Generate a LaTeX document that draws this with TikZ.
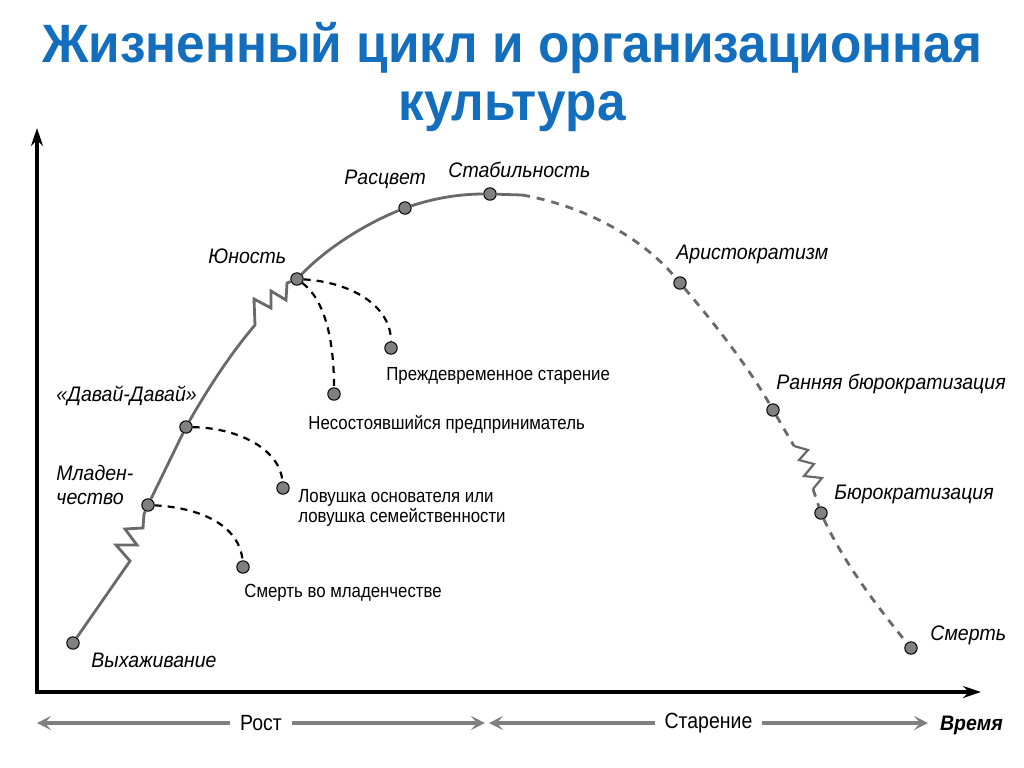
\documentclass[tikz,border=0pt]{standalone}
\usepackage{fontspec}
\setmainfont{Liberation Sans}
\newfontfamily\narrowfont[FakeStretch=0.885]{Liberation Sans}
\newfontfamily\stagefont[FakeStretch=0.93]{Liberation Sans}
\newfontfamily\titlefont[FakeStretch=0.95]{Liberation Sans}
\usetikzlibrary{arrows.meta}
\definecolor{titleblue}{RGB}{20,110,190}
\definecolor{curvegray}{RGB}{105,105,105}
\definecolor{spangray}{RGB}{128,128,128}

\begin{document}
\begin{tikzpicture}[x=0.5pt,y=-0.5pt,
    stage/.style={font=\stagefont\itshape\fontsize{10.5}{12}\selectfont,inner sep=1pt},
    trap/.style={font=\narrowfont\fontsize{9.5}{10}\selectfont,align=left,inner sep=1pt},
    pt/.style={circle,draw=black,fill=gray,minimum size=6.2pt,inner sep=0pt,line width=0.5pt},
    curve/.style={curvegray,line width=1.4pt},
    fall/.style={curvegray,line width=1.4pt,dash pattern=on 4pt off 3.5pt},
    trapline/.style={black,line width=1.1pt,dash pattern=on 3.5pt off 3pt},
    span/.style={spangray,line width=2.2pt,{Stealth[length=7pt,width=7pt,inset=3pt]}-{Stealth[length=7pt,width=7pt,inset=3pt]}},
    spanlabel/.style={fill=white,text=black,font=\narrowfont\fontsize{11}{12}\selectfont,inner xsep=5pt}]
  \useasboundingbox (0,0) rectangle (1024,767);
  % title
  \node[font=\titlefont\bfseries\fontsize{27}{29}\selectfont,text=titleblue,align=center] (title) at (512,77)
    {Жизненный цикл и организационная\\культура};
  % axes
  \coordinate (origin) at (37,692);
  \coordinate (ytop) at (37,128);
  \coordinate (xend) at (981,692);
  \draw[line width=2.2pt,-{Stealth[length=9pt,width=6pt]}] (origin) -- (ytop);
  \draw[line width=2.2pt,-{Stealth[length=9pt,width=6pt]}] ([xshift=-1.1pt]origin) -- (xend);
  % points on the curve
  \node[pt] (vyh) at (73,643) {};
  \node[pt] (mlad) at (148,505) {};
  \node[pt] (davai) at (186,427) {};
  \node[pt] (yun) at (297,279) {};
  \node[pt] (rasc) at (405,208) {};
  \node[pt] (stab) at (490,194) {};
  \node[pt] (arist) at (680,283) {};
  \node[pt] (rbur) at (773,410) {};
  \node[pt] (bur) at (821,513) {};
  \node[pt] (smert) at (911,648) {};
  % traps
  \node[pt] (smlad) at (243,567) {};
  \node[pt] (lovush) at (283,488) {};
  \node[pt] (nesost) at (334,394) {};
  \node[pt] (prezh) at (391,348) {};
  % growth (solid)
  \coordinate (peak) at (522,195);
  \draw[curve] (vyh) -- (130,561) -- (116,545) -- (137,545) -- (125,529) -- (143,528) -- (144,514) -- (mlad);
  \draw[curve] (mlad) -- (davai);
  \draw[curve] (davai) .. controls (210,385) and (232,352) .. (255,325)
    -- (254,299) -- (271,308) -- (271,291) -- (286,300) -- (287,283) -- (yun);
  \draw[curve] (yun) .. controls (330,245) and (370,222) .. (rasc)
    .. controls (435,198) and (460,194) .. (stab) -- (peak);
  % ageing (dashed)
  \draw[fall] (peak) .. controls (580,205) and (640,235) .. (arist)
    .. controls (720,330) and (750,370) .. (rbur) -- (794,446);
  \draw[curvegray,line width=1.1pt] (794,446) -- (808,450) -- (799,460) -- (814,464) -- (804,476) -- (822,478) -- (813,489);
  \draw[fall] (813,489) -- (bur) .. controls (845,565) and (880,610) .. (smert);
  % trap branches
  \draw[trapline] (mlad) .. controls (205,508) and (240,528) .. (smlad);
  \draw[trapline] (davai) .. controls (240,428) and (280,450) .. (lovush);
  \draw[trapline] (yun) .. controls (325,300) and (334,340) .. (nesost);
  \draw[trapline] (yun) .. controls (350,282) and (391,305) .. (prezh);
  % stage labels
  \node[stage,anchor=west] (lvyh) at (89,660) {Выхаживание};
  \node[stage,anchor=west,align=left] (lmlad) at (54,485) {Младен-\\чество};
  \node[stage,anchor=west] (ldavai) at (54,396) {«Давай-Давай»};
  \node[stage,anchor=west] (lyun) at (206,256) {Юность};
  \node[stage,anchor=west] (lrasc) at (342,179) {Расцвет};
  \node[stage,anchor=west] (lstab) at (446,170) {Стабильность};
  \node[stage,anchor=west] (larist) at (674,254) {Аристократизм};
  \node[stage,anchor=west] (lrbur) at (774,384) {Ранняя бюрократизация};
  \node[stage,anchor=west] (lbur) at (832,494) {Бюрократизация};
  \node[stage,anchor=west] (lsmert) at (928,635) {Смерть};
  % trap labels
  \node[trap,anchor=west] (lsmlad) at (242,593) {Смерть во младенчестве};
  \node[trap,anchor=west] (llovush) at (296,508) {Ловушка основателя или\\ловушка семейственности};
  \node[trap,anchor=west] (lnesost) at (306,424) {Несостоявшийся предприниматель};
  \node[trap,anchor=west] (lprezh) at (384,376) {Преждевременное старение};
  % growth and ageing spans
  \coordinate (rostL) at (37,723);
  \coordinate (mid) at (485,723);
  \coordinate (starR) at (928,723);
  \draw[span] (rostL) -- node[spanlabel] (lrost) {Рост} (mid);
  \draw[span] ([xshift=2pt]mid) -- node[spanlabel] (lstar) {Старение} (starR);
  \node[font=\stagefont\bfseries\itshape\fontsize{10.5}{12}\selectfont,anchor=west] (ltime) at (933,725) {Время};
\end{tikzpicture}
\end{document}
